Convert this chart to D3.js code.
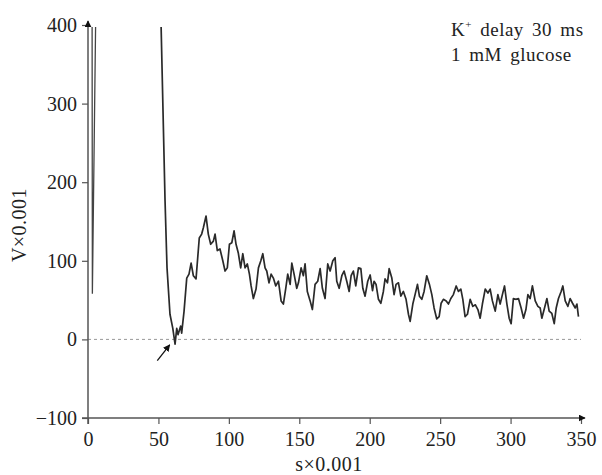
<!DOCTYPE html>
<html>
<head>
<meta charset="utf-8">
<script src="https://cdn.jsdelivr.net/npm/d3@7"></script>
<style>
  body { margin: 0; background: #fff; }
  text { font-family: "Liberation Serif", "Times New Roman", serif; fill: #222; }
</style>
</head>
<body>
<script>
// Stimulus artifact at the start (goes off scale above 400)
const spikeT = [2.9, 3.1, 5.6];
const spikeV = [430, 58, 430];

// Main recording (s x 0.001 , V x 0.001)
const traceT = [51.5, 54.7, 56.1, 58.2, 60.2, 61.8, 63.0, 63.9, 65.8, 66.5, 68.2, 70.1, 71.7, 73.2, 74.8, 76.7,
  79.0, 80.7, 81.9, 83.8, 85.4, 87.1, 89.0, 90.2, 91.8, 93.7, 95.7, 97.3, 98.9, 100.4, 102.1, 103.7, 105.1,
  106.7, 108.4, 109.9, 111.5, 113.1, 114.6, 115.8, 117.4, 119.3, 121.0, 122.7, 124.1, 125.7, 126.9, 128.5,
  130.0, 131.6, 133.3, 135.2, 137.1, 138.7, 140.4, 141.8, 143.5, 144.7, 146.3, 148.2, 149.4, 151.3, 152.9,
  154.1, 155.7, 157.7, 159.3, 161.2, 163.1, 164.8, 166.4, 168.3, 170.2, 171.9, 173.8, 175.4, 176.6, 178.3,
  180.2, 181.8, 183.7, 185.4, 186.8, 188.4, 190.1, 192.0, 193.7, 195.1, 196.7, 198.6, 200.3, 202.0, 203.1,
  204.5, 206.2, 207.9, 209.7, 210.9, 212.6, 213.8, 215.7, 217.3, 218.7, 220.4, 222.1, 223.9, 225.8, 227.5,
  228.7, 230.6, 232.2, 233.9, 235.3, 237.0, 238.6, 240.5, 242.4, 244.1, 245.7, 247.6, 249.3, 250.7, 252.3,
  254.3, 255.9, 257.6, 259.4, 261.4, 263.0, 264.7, 266.1, 267.7, 269.4, 271.3, 273.2, 275.0, 276.8, 278.4,
  280.0, 282.0, 283.9, 285.5, 287.1, 289.1, 291.0, 292.6, 294.2, 295.7, 297.4, 299.0, 300.4, 302.0, 303.7,
  305.6, 307.5, 309.2, 310.9, 312.3, 313.9, 315.5, 317.5, 319.4, 321.0, 322.2, 324.1, 325.8, 327.4, 329.3,
  331.0, 332.4, 334.0, 335.9, 337.1, 338.8, 340.7, 342.3, 344.0, 345.9, 347.1, 348.2];
const traceV = [430, 176, 91, 32, 14, -6, 14, 6, 17, 8, 36, 78, 83, 97, 81, 77,
  129, 134, 142, 157, 134, 121, 125, 134, 113, 115, 100, 87, 91, 121, 123, 138, 121,
  110, 91, 109, 91, 96, 83, 68, 52, 64, 91, 100, 109, 91, 87, 72,
  83, 78, 68, 74, 49, 45, 65, 83, 70, 97, 83, 65, 72, 91, 81,
  96, 61, 49, 38, 70, 74, 90, 65, 52, 96, 87, 100, 104, 74, 65,
  81, 87, 74, 61, 81, 87, 68, 91, 90, 65, 55, 74, 82, 62, 74,
  70, 51, 46, 61, 77, 72, 90, 78, 57, 70, 72, 55, 61, 51, 32,
  23, 45, 57, 70, 55, 51, 61, 81, 70, 57, 40, 26, 29, 46, 51,
  49, 45, 52, 57, 68, 61, 64, 51, 29, 32, 51, 42, 44, 38, 27,
  45, 64, 59, 64, 49, 36, 57, 45, 57, 68, 45, 27, 20, 52, 51,
  52, 40, 27, 38, 57, 52, 68, 49, 42, 40, 27, 40, 52, 36, 33,
  20, 40, 52, 61, 68, 49, 42, 52, 46, 40, 45, 29];

const xTicks = [0, 50, 100, 150, 200, 250, 300, 350];
const yTicks = [-100, 0, 100, 200, 300, 400];
const noteLines = ["delay 30 ms", "1 mM glucose"];
// arrow pointing at the minimum: [tail, head] in data units
const arrowPts = [[49.2, -27], [58.0, -7]];

const width = 602, height = 475;
const x = d3.scaleLinear().domain([0, 350]).range([88, 581]);
const y = d3.scaleLinear().domain([-100, 400]).range([418, 25]);

const svg = d3.select("body").append("svg")
    .attr("width", width)
    .attr("height", height);

const defs = svg.append("defs");
defs.append("marker")
    .attr("id", "tip")
    .attr("viewBox", "0 0 10 10")
    .attr("refX", 9).attr("refY", 5)
    .attr("markerWidth", 7).attr("markerHeight", 7)
    .attr("markerUnits", "userSpaceOnUse")
    .attr("orient", "auto")
  .append("path")
    .attr("d", "M0,0 L10,5 L0,10 z")
    .attr("fill", "#111");

defs.append("clipPath").attr("id", "plot")
  .append("rect")
    .attr("x", x(0)).attr("y", y(400) + 2)
    .attr("width", width - x(0)).attr("height", y(-100) - y(400));

// zero reference line
svg.append("line")
    .attr("x1", x(0)).attr("x2", x(350))
    .attr("y1", y(0)).attr("y2", y(0))
    .attr("stroke", "#999")
    .attr("stroke-width", 1)
    .attr("stroke-dasharray", "3,3");

// axes
const axisColor = "#555";
const xAxis = svg.append("g")
    .attr("transform", `translate(0,${y(-100)})`)
    .call(d3.axisBottom(x).tickValues(xTicks).tickSize(6).tickSizeOuter(0).tickPadding(8));
const yAxis = svg.append("g")
    .attr("transform", `translate(${x(0)},0)`)
    .call(d3.axisLeft(y).tickValues(yTicks).tickSize(6).tickSizeOuter(0).tickPadding(5)
      .tickFormat(d => d < 0 ? "\u2212" + Math.abs(d) : d));

[xAxis, yAxis].forEach(g => {
  g.select(".domain").remove();
  g.selectAll(".tick line").attr("stroke", axisColor).attr("stroke-width", 1.2);
  g.selectAll(".tick text")
    .style("font-family", "Liberation Serif, serif")
    .style("font-size", "20px")
    .attr("fill", "#222");
});

// axis lines with arrowheads
svg.append("line")
    .attr("x1", x(0) - 6).attr("x2", x(350) + 4)
    .attr("y1", y(-100)).attr("y2", y(-100))
    .attr("stroke", axisColor).attr("stroke-width", 1.5)
    .attr("marker-end", "url(#tip)");
svg.append("line")
    .attr("x1", x(0)).attr("x2", x(0))
    .attr("y1", y(-100) + 6).attr("y2", y(400) - 4)
    .attr("stroke", axisColor).attr("stroke-width", 1.5)
    .attr("marker-end", "url(#tip)");

// traces
const line = d3.line().x(d => x(d[0])).y(d => y(d[1]));
const traceGroup = svg.append("g").attr("clip-path", "url(#plot)");
traceGroup.append("path")
    .datum(spikeT.map((t, i) => [t, spikeV[i]]))
    .attr("fill", "none").attr("stroke", "#444").attr("stroke-width", 1.3)
    .attr("d", line);
traceGroup.append("path")
    .datum(traceT.map((t, i) => [t, traceV[i]]))
    .attr("fill", "none").attr("stroke", "#2a2a2a").attr("stroke-width", 1.7)
    .attr("stroke-linejoin", "round")
    .attr("d", line);

// arrow annotation
svg.append("line")
    .attr("x1", x(arrowPts[0][0])).attr("y1", y(arrowPts[0][1]))
    .attr("x2", x(arrowPts[1][0])).attr("y2", y(arrowPts[1][1]))
    .attr("stroke", "#111").attr("stroke-width", 1.3)
    .attr("marker-end", "url(#tip)");

// axis labels
svg.append("text")
    .attr("x", 329).attr("y", 471)
    .attr("text-anchor", "middle")
    .style("font-size", "20px")
    .style("letter-spacing", "0.5px")
    .text("s\u00d70.001");
svg.append("text")
    .attr("transform", "translate(26,225) rotate(-90)")
    .attr("text-anchor", "middle")
    .style("font-size", "20px")
    .style("letter-spacing", "0.5px")
    .text("V\u00d70.001");

// condition note
const note = svg.append("g").attr("transform", "translate(451,36)")
    .style("font-size", "19px")
    .style("letter-spacing", "0.5px")
    .style("word-spacing", "3px");
const first = note.append("text");
first.append("tspan").text("K");
first.append("tspan").attr("dy", -8).style("font-size", "11px").text("+");
first.append("tspan").attr("dy", 8).text(" " + noteLines[0]);
note.append("text").attr("y", 25).text(noteLines[1]);
</script>
</body>
</html>
